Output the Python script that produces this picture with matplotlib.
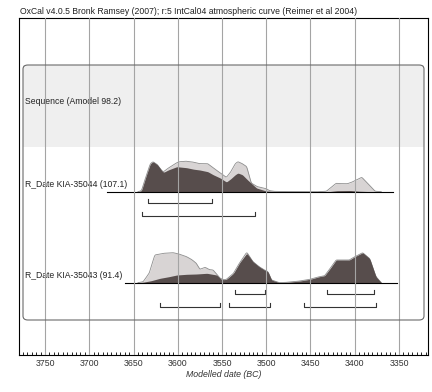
import matplotlib
matplotlib.use("Agg")
import matplotlib.pyplot as plt
from matplotlib.patches import FancyBboxPatch, Rectangle
import numpy as np

plt.rcParams["font.family"] = ["Liberation Sans", "DejaVu Sans"]

title = "OxCal v4.0.5 Bronk Ramsey (2007); r:5 IntCal04 atmospheric curve (Reimer et al 2004)"
seq_label = "Sequence (Amodel 98.2)"

# KIA-35044 : probability (relative), prior = light, posterior = dark
a_label = "R_Date KIA-35044 (107.1)"
a_range = [3680, 3357]
a_light_x = [3645, 3641, 3636, 3631, 3628, 3623, 3618, 3616, 3610, 3601, 3598, 3590, 3582,
             3575, 3566, 3560, 3552, 3545, 3540, 3535, 3532, 3527, 3522, 3517, 3510, 3500,
             3496, 3490, 3470, 3440, 3432, 3421, 3415, 3408, 3402, 3392, 3385, 3377, 3370]
a_light_y = [0, 1, 15, 28, 30, 27, 21, 20, 24, 29, 30, 30.5, 29.5,
             28, 28, 24, 18.7, 14.4, 20, 28, 30, 28, 25, 8.7, 5, 3,
             1, 0.3, 0, 0, 0.5, 8.4, 8, 8, 10, 14.4, 8, 0.5, 0]
a_dark_x = [3645, 3641, 3636, 3631, 3628, 3623, 3618, 3616, 3610, 3601, 3590, 3582, 3575,
            3566, 3560, 3552, 3545, 3540, 3535, 3532, 3527, 3521, 3511, 3500, 3490, 3430,
            3420, 3405, 3395, 3380]
a_dark_y = [0, 1, 15, 28, 30, 27, 21, 19.4, 22, 25, 24, 22.5, 21.7,
            20, 17, 13.7, 9.7, 13, 17, 18.7, 17, 11.7, 3.7, 0.7, 0.2, 0,
            1, 1.2, 0.5, 0]
a_hpd68 = [(3634, 3561)]
a_hpd95 = [(3640, 3513)]

# KIA-35043
b_label = "R_Date KIA-35043 (91.4)"
b_range = [3660, 3352]
b_light_x = [3645, 3639, 3632, 3626, 3615, 3605, 3598, 3590, 3584, 3579, 3575, 3569, 3564,
             3560, 3552, 3548, 3545, 3537, 3530, 3522, 3515, 3508, 3502, 3498, 3494, 3485,
             3475, 3462, 3450, 3440, 3434, 3428, 3421, 3414, 3406, 3400, 3391, 3383, 3376, 3370]
b_light_y = [0, 1, 10, 27.7, 29.5, 30, 28.5, 26, 23, 19.4, 13.4, 15.4, 13,
             12.7, 4.4, 3, 3.4, 9.4, 20, 30.5, 21, 16, 12.7, 11, 2.7, 0,
             0.5, 1.7, 3.5, 6, 7, 14, 22.7, 22.7, 22.7, 26, 30, 24, 6, 0]
b_dark_x = [3645, 3639, 3630, 3620, 3610, 3601, 3590, 3579, 3567, 3556, 3551, 3548, 3545,
            3537, 3530, 3522, 3515, 3508, 3502, 3498, 3494, 3485, 3475, 3462, 3450, 3440,
            3434, 3428, 3421, 3414, 3406, 3400, 3391, 3383, 3376, 3370]
b_dark_y = [0, 0.5, 2, 4.4, 6, 7.7, 8.4, 8.7, 9.4, 7.7, 3.4, 3.0, 3.4,
            9.4, 20, 29.5, 21, 16, 12.7, 11, 2.7, 0, 0.5, 1.7, 3.5, 6,
            7, 14, 22.7, 22.7, 22.7, 26, 30, 24, 6, 0]
b_hpd68 = [(3535, 3501), (3431, 3378)]
b_hpd95 = [(3620, 3552), (3542, 3496), (3457, 3376)]

major_ticks = [3750, 3700, 3650, 3600, 3550, 3500, 3450, 3400, 3350]

dark = "#574d4c"
light = "#d8d4d4"

fig = plt.figure(figsize=(4.32, 3.92), dpi=100)
ax = fig.add_axes([19 / 432, 1 - 355 / 392, 409 / 432, 337 / 392])
ax.set_xlim(3779.4, 3317.2)
ax.set_ylim(0, 337)

# sequence box and band
box = FancyBboxPatch((4 / 409, 35 / 337), 401 / 409, 255 / 337,
                     boxstyle="round,pad=0,rounding_size=0.012",
                     transform=ax.transAxes, facecolor="none",
                     edgecolor="#6a6a6a", lw=0.8, zorder=4)
ax.add_patch(box)
ax.add_patch(Rectangle((4 / 409, 208 / 337), 401 / 409, 82 / 337,
                       transform=ax.transAxes, facecolor="#efefef",
                       edgecolor="none", zorder=0))
ax.text(6 / 409, 253, seq_label, transform=ax.get_yaxis_transform(),
        fontsize=6.2, va="center", ha="left", color="#222", zorder=2)


def smooth(x, y):
    # light resampling so the outlines look less jagged
    x = np.asarray(x, float)[::-1]
    y = np.asarray(y, float)[::-1]
    xs = np.linspace(x[0], x[-1], 400)
    ys = np.interp(xs, x, y)
    k = np.ones(3) / 3
    ys = np.convolve(np.pad(ys, 1, mode="edge"), k, mode="valid")
    return xs, ys


def draw_date(label, rng, lx, ly, dx, dy, h68, h95, base):
    lx, ly = smooth(lx, ly)
    dx, dy = smooth(dx, dy)
    ax.fill_between(lx, base, base + ly, color=light, lw=0, zorder=1)
    ax.plot(lx, base + ly, color="#8c8c8c", lw=0.6, zorder=1.5)
    ax.fill_between(dx, base, base + dy, color=dark, lw=0, zorder=2)
    ax.plot(rng, [base, base], color="black", lw=0.8, zorder=2.5)
    ax.text(6 / 409, base + 7, label, transform=ax.get_yaxis_transform(),
            fontsize=6.2, va="center", ha="left", color="#222", zorder=2)
    for rows, off in ((h68, -11.5), (h95, -24.5)):
        for s, e in rows:
            y = base + off
            ax.plot([s, s, e, e], [y + 4, y, y, y + 4], color="#333", lw=0.8, zorder=2.5)


draw_date(a_label, a_range, a_light_x, a_light_y, a_dark_x, a_dark_y, a_hpd68, a_hpd95, 163.3)
draw_date(b_label, b_range, b_light_x, b_light_y, b_dark_x, b_dark_y, b_hpd68, b_hpd95, 72.3)

for t in major_ticks:
    ax.axvline(t, color="#a4a4a4", lw=0.8, zorder=3)

ax.set_xticks(major_ticks)
ax.set_xticks(np.arange(3775, 3317, -5), minor=True)
ax.tick_params(axis="x", which="both", direction="in", length=2, width=0.6,
               labelsize=6.3, labelcolor="#333", pad=3)
ax.set_yticks([])
for s in ax.spines.values():
    s.set_linewidth(0.8)
    s.set_color("black")
ax.set_xlabel("Modelled date (BC)", fontsize=6.3, style="italic", color="#333", labelpad=1)
fig.text(20 / 432, 1 - 12 / 392, title, fontsize=6.2, color="#222", va="center", ha="left")

fig.savefig("out.png", dpi=100)
